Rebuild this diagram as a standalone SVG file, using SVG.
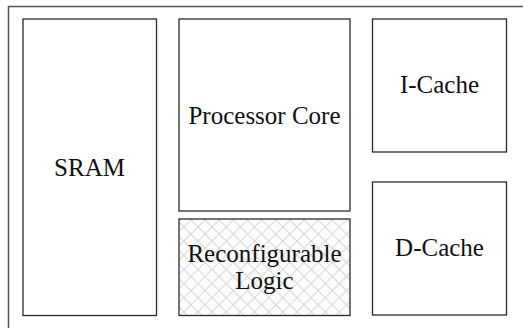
<svg xmlns="http://www.w3.org/2000/svg" width="523" height="328" viewBox="0 0 523 328">
  <style>
    .frame { fill: none; stroke: #555; stroke-width: 1.5; }
    .blk { fill: #fff; stroke: #2a2a2a; stroke-width: 1.3; }
    .lbl { font-family: "Liberation Serif", "Times New Roman", serif; font-size: 25px; fill: #111; text-anchor: middle; }
  </style>
  <defs>
    <pattern id="xhatch" width="10" height="10" patternUnits="userSpaceOnUse" patternTransform="rotate(45)">
      <rect width="10" height="10" fill="#fcfcfc"/>
      <path d="M0 0H10M0 0V10" stroke="#d6d6d6" stroke-width="1.8"/>
    </pattern>
  </defs>
  <rect width="523" height="328" fill="#fff"/>
  <!-- chip outline, running past the right and bottom edges -->
  <path class="frame" d="M8.5 340V6.5H530"/>

  <g id="sram">
    <rect class="blk" x="23" y="19" width="133.5" height="296.5"/>
    <text class="lbl" x="89.5" y="175.5">SRAM</text>
  </g>
  <g id="processor-core">
    <rect class="blk" x="179" y="19" width="171" height="192"/>
    <text class="lbl" x="264.5" y="123.5">Processor Core</text>
  </g>
  <g id="reconfigurable-logic">
    <rect class="blk" x="179" y="219" width="171" height="96.5" style="fill:url(#xhatch)"/>
    <text class="lbl" x="264.5" y="261.5">Reconfigurable</text>
    <text class="lbl" x="264.5" y="289">Logic</text>
  </g>
  <g id="i-cache">
    <rect class="blk" x="372.5" y="19" width="134" height="133"/>
    <text class="lbl" x="439.5" y="93">I-Cache</text>
  </g>
  <g id="d-cache">
    <rect class="blk" x="372.5" y="182" width="134" height="133"/>
    <text class="lbl" x="439.5" y="256">D-Cache</text>
  </g>
  <g id="connectors"/>
</svg>
